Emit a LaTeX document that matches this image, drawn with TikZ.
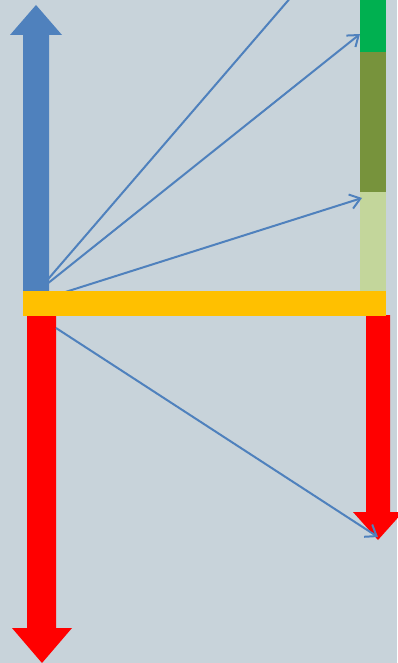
\documentclass[tikz,border=0pt]{standalone}
\usetikzlibrary{arrows.meta}
\definecolor{bgcol}{RGB}{200,211,218}
\definecolor{blueA}{RGB}{79,129,189}
\definecolor{goldA}{RGB}{255,192,0}
\definecolor{redA}{RGB}{255,0,0}
\definecolor{greenA}{RGB}{0,176,80}
\definecolor{oliveA}{RGB}{119,147,60}
\definecolor{paleA}{RGB}{195,214,155}
\begin{document}
\begin{tikzpicture}[x=0.75pt,y=-0.75pt,
  fatarrow/.style={draw=none},
  ray/.style={draw=blueA,line width=1.5pt},
  rayarrow/.style={ray,-{Straight Barb[length=7.5pt,width=11pt,line width=1.5pt]}}]
% canvas
\fill[bgcol] (0,0) rectangle (397,663);
\useasboundingbox (0,0) rectangle (397,663);
% upward blue arrow
\fill[blueA] (23,292) -- (23,35) -- (10,35) -- (36,5) -- (62,35) -- (49,35) -- (49,292) -- cycle;
% stacked bar on the right
\fill[greenA] (360,0) rectangle (386,52);
\fill[oliveA] (360,52) rectangle (386,192);
\fill[paleA] (360,192) rectangle (386,292);
% downward red arrows
\fill[redA] (27,315) -- (27,628) -- (12,628) -- (42,663) -- (72,628) -- (56,628) -- (56,315) -- cycle;
\fill[redA] (366,315) -- (366,512) -- (353,512) -- (378,540) -- (403,512) -- (390,512) -- (390,315) -- cycle;
% ray end points
\coordinate (src) at (37,292);
\coordinate (srcB) at (37,301);
\coordinate (srcC) at (56,328);
\coordinate (t1) at (292,-4);
\coordinate (t2) at (360,34);
\coordinate (t3) at (362,198);
\coordinate (t4) at (378,537);
\draw[ray] (src) -- (t1);
\draw[rayarrow] (src) -- (t2);
\draw[rayarrow] (srcB) -- (t3);
\draw[rayarrow] (srcC) -- (t4);
% horizontal base bar
\fill[goldA] (23,291) rectangle (386,316);
\end{tikzpicture}
\end{document}
